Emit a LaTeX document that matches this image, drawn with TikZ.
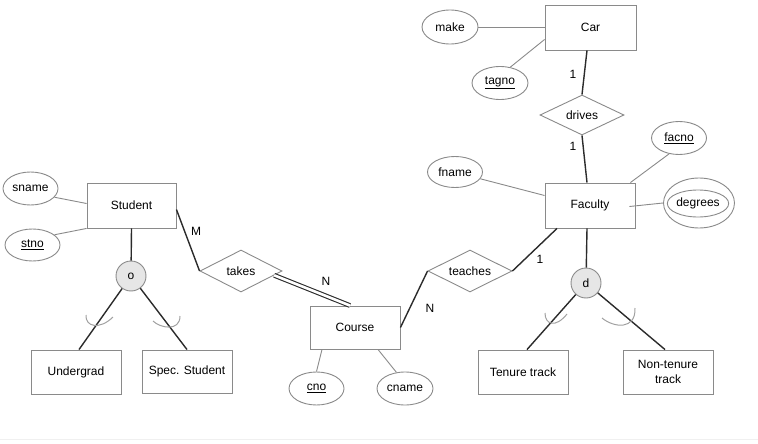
\documentclass[tikz,border=0pt]{standalone}
\usepackage{fontspec}
\setmainfont{Liberation Sans}
\usetikzlibrary{shapes.geometric,calc}
\definecolor{boxc}{HTML}{8A8A8A}
\definecolor{conn}{HTML}{2B2B2B}
\definecolor{circfill}{HTML}{E6E6E6}
\tikzset{
  ent/.style={draw=boxc, line width=0.9pt, rectangle, minimum width=90pt, minimum height=44pt, inner sep=0pt, align=center},
  attr/.style={draw=boxc, line width=0.9pt, ellipse, minimum width=56pt, minimum height=33pt, inner sep=0pt},
  rel/.style={draw=boxc, line width=0.9pt, diamond, aspect=2.1, minimum width=84pt, minimum height=41pt, inner sep=0pt},
  spc/.style={draw=boxc, line width=0.9pt, circle, fill=circfill, minimum size=30pt, inner sep=0pt},
  strong/.style={draw=conn, line width=1.4pt},
  weak/.style={draw=boxc, line width=0.9pt},
  subs/.style={draw=boxc!80, line width=1pt},
  card/.style={inner sep=0pt},
}
\begin{document}
\begin{tikzpicture}[x=1pt,y=-1pt, every node/.style={font=\fontsize{12}{14}\selectfont}]
\useasboundingbox (0,0) rectangle (758,444);
% entities
\node[ent, minimum width=91pt, minimum height=45pt] (car) at (590.5,27.5) {Car};
\node[ent, minimum height=45pt] (faculty) at (590,205.5) {Faculty};
\node[ent, minimum width=89pt, minimum height=45pt] (student) at (131.5,205.5) {Student};
\node[ent, minimum height=43pt] (course) at (355,327.5) {Course};
\node[ent] (undergrad) at (76,372) {Undergrad};
\node[ent, minimum height=43pt] (spec) at (187,371.5) {Spec. Student};
\node[ent] (tenure) at (523,372) {Tenure track};
\node[ent, font=\fontsize{12}{15}\selectfont] (nontenure) at (668,372) {Non-tenure\\track};
% attributes
\node[attr, minimum height=34pt] (make) at (450,27) {make};
\node[attr] (tagno) at (500,83) {\underline{tagno}};
\node[attr, minimum width=55pt, minimum height=31pt] (fname) at (455,172) {fname};
\node[attr, minimum width=55pt] (facno) at (679,138) {\underline{facno}};
\node[attr, minimum width=71pt, minimum height=50pt] (degrees) at (699,203) {};
\node[attr, minimum width=56pt, minimum height=27pt] (degreesin) at (698,203.5) {degrees};
\node[attr, minimum width=55pt] (cno) at (316.5,388.5) {\underline{cno}};
\node[attr] (cname) at (405,388.5) {cname};
\node[attr, minimum width=55pt] (sname) at (30.5,188.5) {sname};
\node[attr, minimum width=55pt, minimum height=32pt] (stno) at (32.5,245) {\underline{stno}};
% relationships
\node[rel, minimum height=40pt] (drives) at (582,115) {drives};
\node[rel, minimum height=42pt] (teaches) at (470,271) {teaches};
\node[rel, minimum width=82pt, minimum height=42pt] (takes) at (241,271) {takes};
% specialisation circles
\node[spc] (dcirc) at (586,283) {d};
\node[spc] (ocirc) at (131,276) {o};
% attribute connectors
\draw[weak] (make.east) -- (car.west |- make.east);
\draw[weak] (tagno.57) -- ([yshift=-12pt]car.west);
\draw[weak] (fname.-15) -- ([yshift=10pt]faculty.west);
\draw[weak] (facno.-122) -- ([xshift=-5pt]faculty.north east);
\draw[weak] ([xshift=-6pt,yshift=-1pt]faculty.east) -- (degrees.west);
\draw[weak] ([xshift=-33pt]course.south) -- (cno.north);
\draw[weak] ([xshift=23pt]course.south) -- (cname.118);
\draw[weak] (sname.-20) -- ([yshift=2pt]student.west);
\draw[weak] (stno.25) -- (student.south west);
% relationship connectors
\draw[strong] ([xshift=-3.5pt]car.south) -- (drives.north);
\draw[strong] (drives.south) -- ([xshift=-3pt]faculty.north);
\draw[strong] ([xshift=-33pt]faculty.south) -- (teaches.east);
\draw[strong] (teaches.west) -- (course.east);
\draw[strong] ([yshift=-4pt]student.east) -- (takes.west);
\draw[draw=conn, line width=1.1pt, double=white, double distance=2.6pt]
  ($(takes.east)!0.2!(takes.south)$) -- ([xshift=-5pt]course.north);
% specialisation connectors
\draw[strong] ([xshift=-3pt]faculty.south) -- (dcirc);
\draw[strong] (dcirc) -- ([xshift=4pt]tenure.north);
\draw[strong] (dcirc) -- ([xshift=-3pt]nontenure.north);
\draw[strong] (student.south) -- (ocirc);
\draw[strong] (ocirc) -- ([xshift=3pt]undergrad.north);
\draw[strong] (ocirc) -- (spec.north);
% subset marks
\draw[subs] (86,315) .. controls (85,327) and (100,330) .. (113,317);
\draw[subs] (153,321) .. controls (160,328) and (180,332) .. (180,316);
\draw[subs] (545,313) .. controls (545,325) and (556,328) .. (567,314);
\draw[subs] (602,318) .. controls (614,328) and (636,330) .. (635,308);
% cardinalities
\node[card] (c1) at (573,74) {1};
\node[card] (c2) at (573,146) {1};
\node[card] (c3) at (540,259) {1};
\node[card] (cm) at (196,231) {M};
\node[card] (cn1) at (326,281) {N};
\node[card] (cn2) at (430,308) {N};
% faint bottom rule
\draw[draw=black!6, line width=0.8pt] (0,439) -- (758,439);
\end{tikzpicture}
\end{document}
